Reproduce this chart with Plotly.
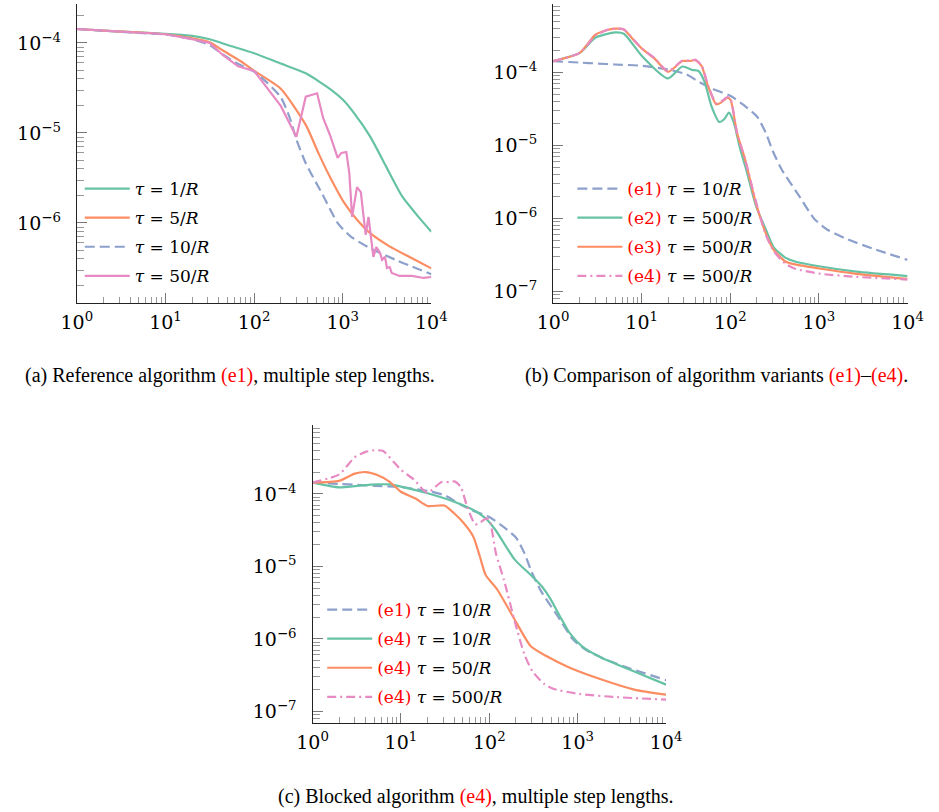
import plotly.graph_objects as go

# ---- colours (ColorBrewer Set2) ----
GREEN, ORANGE, BLUE, PINK = "#66c2a5", "#fc8d62", "#8da0cb", "#e78ac3"

# ---- shared curve: reference algorithm (e1), tau = 10/R ----
e1_t10_x = [1, 2, 3.2, 5, 10, 20, 31.6, 44, 63, 100, 141, 200, 251, 300, 383,
            582, 883, 1236, 2042, 3981, 10000]
e1_t10_y = [1.43e-4, 1.37e-4, 1.33e-4, 1.29e-4, 1.24e-4, 1.10e-4, 9.5e-5, 7.5e-5,
            6.0e-5, 4.8e-5, 3.6e-5, 2.5e-5, 1.5e-5, 8.5e-6, 4.6e-6, 2.14e-6,
            9.9e-7, 7.05e-7, 5.24e-7, 3.88e-7, 2.7e-7]

# ---- panel (a): reference algorithm (e1), several step lengths ----
e1_t1_x = [1, 2, 5, 10, 20, 31.6, 50, 100, 200, 383, 748, 1000, 1343, 2042,
           3100, 4710, 7160, 10000]
e1_t1_y = [1.43e-4, 1.37e-4, 1.31e-4, 1.26e-4, 1.20e-4, 1.10e-4, 9.5e-5, 7.7e-5,
           5.9e-5, 4.6e-5, 3.0e-5, 2.35e-5, 1.66e-5, 9.1e-6, 4.2e-6, 1.96e-6,
           1.17e-6, 8.0e-7]

e1_t5_x = [1, 2, 5, 10, 20, 31.6, 44, 70, 100, 200, 383, 535, 748, 1045, 1459,
           2042, 3373, 6053, 10000]
e1_t5_y = [1.43e-4, 1.37e-4, 1.31e-4, 1.25e-4, 1.13e-4, 1.02e-4, 8.3e-5, 6.3e-5,
           4.9e-5, 3.1e-5, 1.23e-5, 5.9e-6, 3.0e-6, 1.66e-6, 1.08e-6, 7.7e-7,
           5.5e-7, 4.05e-7, 3.13e-7]

e1_t50_x = [1, 2, 5, 10, 20, 31.6, 44, 66, 100, 200, 300, 383, 514, 601, 718,
            877, 966, 1099, 1186, 1276, 1449, 1600, 1816, 1954, 2218, 2393, 2642,
            2780, 3000, 3155, 3396, 3573, 4365, 6053, 8185, 10000]
e1_t50_y = [1.43e-4, 1.37e-4, 1.31e-4, 1.25e-4, 1.10e-4, 1.0e-4, 7.4e-5, 5.5e-5,
            4.9e-5, 2.0e-5, 9.1e-6, 2.53e-5, 2.76e-5, 1.47e-5, 9.5e-6, 5.3e-6,
            6.0e-6, 6.15e-6, 3.6e-6, 1.17e-6, 2.5e-6, 2.2e-6, 7.4e-7, 1.17e-6,
            4.2e-7, 5.4e-7, 4.65e-7, 3.9e-7, 4.2e-7, 3.16e-7, 3.24e-7, 2.78e-7,
            2.58e-7, 2.58e-7, 2.45e-7, 2.51e-7]

# ---- panel (b): variants (e2)-(e4), tau = 500/R ----
e2_t500_x = [1, 2, 3, 5, 6.3, 8.2, 10, 19.8, 28.8, 37, 43.8, 51.6, 61.1, 75.2,
             85.3, 96.6, 109.6, 129.7, 151, 195, 251, 309, 417, 537, 1047, 2630,
             10000]
e2_t500_y = [1.43e-4, 1.86e-4, 3.0e-4, 3.55e-4, 3.4e-4, 2.32e-4, 1.7e-4, 8.3e-5,
             1.21e-4, 1.09e-4, 1.05e-4, 7.3e-5, 3.5e-5, 2.1e-5, 2.29e-5, 2.83e-5,
             2.06e-5, 8.8e-6, 4.7e-6, 1.48e-6, 7.1e-7, 4.0e-7, 2.9e-7, 2.57e-7,
             2.19e-7, 1.86e-7, 1.62e-7]

e3_t500_x = [1, 2, 3, 4, 5, 6.3, 8.2, 10, 14, 19.8, 28.8, 35.5, 40.2, 47.5, 56.1,
             69.2, 78.5, 92.9, 100.9, 119, 147, 195, 251, 309, 417, 537, 1047,
             2630, 10000]
e3_t500_y = [1.43e-4, 1.86e-4, 3.3e-4, 3.8e-4, 4.0e-4, 3.9e-4, 2.75e-4, 2.15e-4,
             1.55e-4, 1.02e-4, 1.44e-4, 1.44e-4, 1.49e-4, 1.23e-4, 6.5e-5, 3.67e-5,
             3.87e-5, 4.54e-5, 4.2e-5, 1.5e-5, 6.4e-6, 1.6e-6, 6.3e-7, 3.7e-7,
             2.57e-7, 2.34e-7, 2.04e-7, 1.74e-7, 1.48e-7]

e4_t500_x = [1, 2, 3, 4, 5, 6.3, 8.2, 10, 14, 19.8, 28.8, 35.5, 40.2, 47.5, 56.1,
             69.2, 78.5, 92.9, 100.9, 119, 147, 195, 251, 309, 417, 537, 1047,
             2630, 10000]
e4_t500_y = [1.43e-4, 1.86e-4, 3.2e-4, 3.8e-4, 4.0e-4, 3.9e-4, 2.8e-4, 2.15e-4,
             1.58e-4, 1.04e-4, 1.46e-4, 1.45e-4, 1.49e-4, 1.25e-4, 6.7e-5, 3.8e-5,
             4.0e-5, 4.6e-5, 4.3e-5, 1.5e-5, 6.4e-6, 1.7e-6, 6.0e-7, 3.55e-7,
             2.4e-7, 2.04e-7, 1.74e-7, 1.58e-7, 1.45e-7]

# ---- panel (c): blocked algorithm (e4), several step lengths ----
e4_t10_x = [1, 2, 3.2, 5.4, 7.4, 10, 20, 40, 66, 91, 117, 195, 295, 398, 490,
            631, 813, 1122, 1862, 4365, 10000]
e4_t10_y = [1.43e-4, 1.23e-4, 1.29e-4, 1.35e-4, 1.35e-4, 1.26e-4, 1.02e-4, 7.8e-5,
            6.0e-5, 4.6e-5, 3.2e-5, 1.23e-5, 7.6e-6, 5.2e-6, 3.6e-6, 2.04e-6,
            1.2e-6, 7.9e-7, 5.5e-7, 3.55e-7, 2.34e-7]

e4_t50_x = [1, 2, 3, 4, 5.4, 7.4, 10, 14.5, 20, 31, 40, 51, 66, 78, 91, 123, 195,
            295, 447, 813, 1862, 4365, 10000]
e4_t50_y = [1.43e-4, 1.51e-4, 1.9e-4, 2.0e-4, 1.82e-4, 1.48e-4, 1.07e-4, 8.7e-5,
            6.8e-5, 6.9e-5, 5.4e-5, 4.0e-5, 2.57e-5, 1.38e-5, 7.6e-6, 4.8e-6,
            1.82e-6, 7.9e-7, 5.75e-7, 4.0e-7, 2.75e-7, 2.0e-7, 1.7e-7]

# ---- tick labels ----
x_tickvals = [1, 10, 100, 1000, 10000]
x_ticktext = ["10<sup>0</sup>", "10<sup>1</sup>", "10<sup>2</sup>",
              "10<sup>3</sup>", "10<sup>4</sup>"]
y_tickvals = [1e-7, 1e-6, 1e-5, 1e-4]
y_ticktext = ["10<sup>−7</sup>", "10<sup>−6</sup>", "10<sup>−5</sup>",
              "10<sup>−4</sup>"]

# minor ticks at 2..9 of every decade
x_minor = [m * 10 ** k for k in range(0, 4) for m in range(2, 10)]
y_minor = [m * 10.0 ** k for k in range(-8, -3) for m in range(2, 10)]

RED = "#ff0000"
TICK_FONT = dict(family="DejaVu Serif", size=19, color="black")
LEG_FONT = dict(family="DejaVu Serif", size=17, color="black")
CAP_FONT = dict(family="Liberation Serif", size=20, color="black")

DASH = "10px,5px"
DASHDOT = "9px,4px,2px,4px"
LW = 2.2


def tau(num, tag=None):
    s = f"<i>τ</i> = {num}/<i>R</i>"
    if tag:
        s = f"<span style='color:{RED}'>({tag})</span> " + s
    return s


fig = go.Figure()


def add(x, y, color, name, axis, legend, dash="solid", smooth=True):
    xa = "x" if axis == 1 else f"x{axis}"
    ya = "y" if axis == 1 else f"y{axis}"
    line = dict(color=color, width=LW, dash=dash)
    if smooth:
        line.update(shape="spline", smoothing=0.6)
    fig.add_trace(go.Scatter(
        x=x, y=y, mode="lines", name=name, xaxis=xa, yaxis=ya, line=line,
        legend=legend, legendgroup=f"{legend}-{name}"))


# panel (a)
add(e1_t1_x, e1_t1_y, GREEN, tau(1), 1, "legend")
add(e1_t5_x, e1_t5_y, ORANGE, tau(5), 1, "legend")
add(e1_t10_x, e1_t10_y, BLUE, tau(10), 1, "legend", DASH)
add(e1_t50_x, e1_t50_y, PINK, tau(50), 1, "legend", smooth=False)

# panel (b)
add(e1_t10_x, e1_t10_y, BLUE, tau(10, "e1"), 2, "legend2", DASH)
add(e2_t500_x, e2_t500_y, GREEN, tau(500, "e2"), 2, "legend2")
add(e3_t500_x, e3_t500_y, ORANGE, tau(500, "e3"), 2, "legend2")
add(e4_t500_x, e4_t500_y, PINK, tau(500, "e4"), 2, "legend2", DASHDOT)

# panel (c)
add(e1_t10_x, e1_t10_y, BLUE, tau(10, "e1"), 3, "legend3", DASH)
add(e4_t10_x, e4_t10_y, GREEN, tau(10, "e4"), 3, "legend3")
add(e4_t50_x, e4_t50_y, ORANGE, tau(50, "e4"), 3, "legend3")
add(e4_t500_x, e4_t500_y, PINK, tau(500, "e4"), 3, "legend3", DASHDOT)

W, H = 939, 812


def px_x(p):
    return p / W


def px_y(p):
    return 1 - p / H


axis_common = dict(
    type="log", showgrid=False, zeroline=False, showline=True,
    linecolor="#222", linewidth=1.3, ticks="inside", ticklen=10,
    tickcolor="#777", tickwidth=1, tickfont=TICK_FONT,
)

xaxis = dict(axis_common, range=[0, 4], tickmode="array",
             tickvals=x_tickvals, ticktext=x_ticktext, ticklabelstandoff=2,
             minor=dict(ticks="inside", ticklen=6, tickcolor="#999",
                        tickwidth=1, showgrid=False, tickmode="array",
                        tickvals=x_minor))
yaxis = dict(axis_common, tickmode="array", tickvals=y_tickvals,
             ticktext=y_ticktext, ticklabelstandoff=11,
             minor=dict(ticks="inside", ticklen=7, tickcolor="#999",
                        tickwidth=1, showgrid=False, tickmode="array",
                        tickvals=y_minor))

fig.update_layout(
    width=W, height=H, margin=dict(l=0, r=0, t=0, b=0),
    paper_bgcolor="white", plot_bgcolor="white", showlegend=True,
    xaxis=dict(xaxis, domain=[px_x(63), px_x(430)], anchor="y"),
    yaxis=dict(yaxis, domain=[px_y(303), px_y(4)], anchor="x",
               range=[-6.889, -3.567]),
    xaxis2=dict(xaxis, domain=[px_x(556), px_x(923)], anchor="y2"),
    yaxis2=dict(yaxis, domain=[px_y(303), px_y(4)], anchor="x2",
                range=[-7.16, -3.06]),
    xaxis3=dict(xaxis, domain=[px_x(307), px_x(673)], anchor="y3"),
    yaxis3=dict(yaxis, domain=[px_y(723), px_y(425)], anchor="x3",
                range=[-7.16, -3.05]),
)

leg_common = dict(font=LEG_FONT, bgcolor="rgba(0,0,0,0)", borderwidth=0,
                  xanchor="left", yanchor="top", tracegroupgap=4,
                  itemwidth=45, traceorder="grouped")
fig.update_layout(
    legend=dict(leg_common, x=px_x(66), y=px_y(171)),
    legend2=dict(leg_common, x=px_x(576), y=px_y(171)),
    legend3=dict(leg_common, x=px_x(317), y=px_y(592)),
)

captions = [
    (222, 375, f"(a) Reference algorithm <span style='color:{RED}'>(e1)</span>, "
               "multiple step lengths."),
    (725, 375, f"(b) Comparison of algorithm variants "
               f"<span style='color:{RED}'>(e1)</span>–"
               f"<span style='color:{RED}'>(e4)</span>."),
    (476, 796, f"(c) Blocked algorithm <span style='color:{RED}'>(e4)</span>, "
               "multiple step lengths."),
]
for cx, cy, text in captions:
    fig.add_annotation(x=px_x(cx), y=px_y(cy), xref="paper", yref="paper",
                       text=text, showarrow=False, font=CAP_FONT,
                       xanchor="center", yanchor="middle")

fig.write_html("out.html")
